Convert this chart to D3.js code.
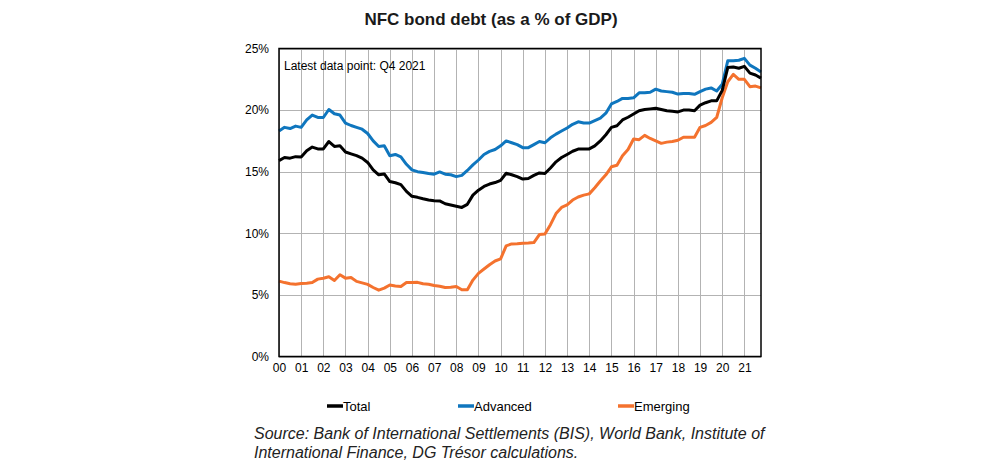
<!DOCTYPE html>
<html>
<head>
<meta charset="utf-8">
<script src="https://cdn.jsdelivr.net/npm/d3@7"></script>
<style>
  html, body { margin: 0; padding: 0; background: #fff; }
  svg { display: block; font-family: Arial, "Liberation Sans", sans-serif; }
</style>
</head>
<body>
<svg id="chart" width="1006" height="472"></svg>
<script>
// ---- Data (quarterly, 2000Q1 .. 2021Q4), % of GDP ----
const yearLabels = ["00","01","02","03","04","05","06","07","08","09","10",
                    "11","12","13","14","15","16","17","18","19","20","21"];
const yTicks = [0, 5, 10, 15, 20, 25];

const total = [
  15.9,16.15,16.1,16.22,
  16.2,16.7,17.0,16.85,
  16.85,17.45,17.05,17.1,
  16.6,16.45,16.3,16.1,
  15.75,15.15,14.75,14.82,
  14.2,14.1,13.95,13.4,
  13.0,12.92,12.8,12.7,
  12.65,12.63,12.4,12.3,
  12.2,12.1,12.35,13.1,
  13.5,13.8,14.0,14.12,
  14.3,14.87,14.75,14.6,
  14.4,14.45,14.7,14.9,
  14.85,15.3,15.8,16.15,
  16.4,16.66,16.84,16.84,
  16.85,17.1,17.5,18.0,
  18.6,18.73,19.2,19.42,
  19.68,19.95,20.05,20.1,
  20.15,20.05,19.95,19.9,
  19.85,20.0,20.0,19.95,
  20.4,20.6,20.75,20.75,
  21.6,23.45,23.5,23.4,
  23.55,23.0,22.85,22.6
];
const advanced = [
  18.3,18.6,18.5,18.7,
  18.6,19.2,19.6,19.4,
  19.4,20.05,19.7,19.6,
  18.95,18.75,18.6,18.45,
  18.1,17.5,17.05,17.1,
  16.3,16.4,16.2,15.6,
  15.15,15.0,14.93,14.85,
  14.8,14.98,14.8,14.75,
  14.6,14.7,15.1,15.55,
  15.95,16.4,16.65,16.8,
  17.1,17.5,17.35,17.2,
  16.95,16.95,17.2,17.45,
  17.35,17.75,18.05,18.3,
  18.55,18.85,19.05,18.95,
  18.95,19.15,19.35,19.75,
  20.5,20.7,20.95,20.95,
  21.0,21.4,21.4,21.45,
  21.7,21.55,21.5,21.45,
  21.3,21.35,21.35,21.28,
  21.5,21.7,21.8,21.55,
  22.1,24.0,24.0,24.05,
  24.2,23.65,23.4,23.1
];
const emerging = [
  6.12,6.0,5.9,5.87,
  5.93,5.95,6.0,6.28,
  6.35,6.47,6.17,6.63,
  6.36,6.42,6.1,5.98,
  5.85,5.6,5.38,5.55,
  5.8,5.73,5.68,6.0,
  6.0,6.02,5.9,5.87,
  5.76,5.7,5.6,5.62,
  5.68,5.42,5.41,6.2,
  6.75,7.1,7.45,7.75,
  7.92,8.98,9.14,9.15,
  9.2,9.22,9.25,9.9,
  9.95,10.7,11.6,12.1,
  12.3,12.7,12.95,13.1,
  13.2,13.7,14.25,14.75,
  15.4,15.52,16.3,16.8,
  17.65,17.6,17.95,17.7,
  17.5,17.3,17.4,17.45,
  17.55,17.8,17.8,17.8,
  18.6,18.75,19.0,19.4,
  21.0,22.3,22.9,22.5,
  22.5,21.9,21.95,21.8
];
const seriesNames = ["Total", "Advanced", "Emerging"];
const seriesColors = ["#000000", "#0F76BE", "#F4722E"];
const seriesData = [total, advanced, emerging];

// ---- Layout ----
const svg = d3.select("#chart");
const L = 279, R = 761, T = 48.5, B = 356.5;

const x = d3.scaleLinear().domain([0, total.length - 1]).range([L, R]);
const y = d3.scaleLinear().domain([0, 25]).range([B, T]);

svg.append("rect").attr("width", 1006).attr("height", 472).attr("fill", "#fff");

// Title
svg.append("text")
  .attr("x", 491).attr("y", 25)
  .attr("text-anchor", "middle")
  .attr("font-size", 17).attr("font-weight", "bold").attr("fill", "#1a1a1a")
  .text("NFC bond debt (as a % of GDP)");

// Grid
const g = svg.append("g");
const yearIdx = yearLabels.map((d, i) => i * 4);

g.append("g").selectAll("line").data(yearIdx).join("line")
  .attr("x1", d => Math.round(x(d)) + 0.5).attr("x2", d => Math.round(x(d)) + 0.5)
  .attr("y1", T).attr("y2", B)
  .attr("stroke", "#b3b3b3").attr("stroke-width", 1);

g.append("g").selectAll("line").data(yTicks).join("line")
  .attr("x1", L).attr("x2", R)
  .attr("y1", d => Math.round(y(d)) + 0.5).attr("y2", d => Math.round(y(d)) + 0.5)
  .attr("stroke", "#b3b3b3").attr("stroke-width", 1);

// Axes labels via d3 axes
const yAxis = d3.axisLeft(y).tickValues(yTicks).tickFormat(d => d + "%").tickSize(0).tickPadding(10);
svg.append("g").attr("transform", `translate(${L},0)`).call(yAxis)
  .call(s => s.select(".domain").remove())
  .selectAll("text").attr("font-size", 12).attr("fill", "#000").attr("font-family", "Arial, 'Liberation Sans', sans-serif");

const xAxis = d3.axisBottom(x).tickValues(yearIdx).tickFormat((d, i) => yearLabels[i]).tickSize(0).tickPadding(7);
svg.append("g").attr("transform", `translate(0,${B})`).call(xAxis)
  .call(s => s.select(".domain").remove())
  .selectAll("text").attr("font-size", 12).attr("fill", "#000").attr("font-family", "Arial, 'Liberation Sans', sans-serif");

// Lines
const line = d3.line().x((d, i) => x(i)).y(d => y(d)).curve(d3.curveLinear);
const plot = svg.append("g");
[2, 1, 0].forEach(k => {
  plot.append("path")
    .datum(seriesData[k])
    .attr("d", line)
    .attr("fill", "none")
    .attr("stroke", seriesColors[k])
    .attr("stroke-width", 3)
    .attr("stroke-linejoin", "round");
});

// Frame
svg.append("rect")
  .attr("x", L).attr("y", T).attr("width", R - L).attr("height", B - T)
  .attr("fill", "none").attr("stroke", "#000").attr("stroke-width", 1.5);

// Annotation
svg.append("text")
  .attr("x", 284).attr("y", 69.5)
  .attr("font-size", 12).attr("fill", "#000")
  .text("Latest data point: Q4 2021");

// Legend
const legendX = [327, 458, 618];
const leg = svg.append("g");
seriesNames.forEach((n, i) => {
  leg.append("line")
    .attr("x1", legendX[i]).attr("x2", legendX[i] + 16)
    .attr("y1", 406).attr("y2", 406)
    .attr("stroke", seriesColors[i]).attr("stroke-width", 3.5);
  leg.append("text")
    .attr("x", legendX[i] + 16).attr("y", 411)
    .attr("font-size", 13).attr("fill", "#000")
    .text(n);
});

// Source
const src = svg.append("text")
  .attr("font-size", 16).attr("font-style", "italic").attr("fill", "#222");
src.append("tspan").attr("x", 254).attr("y", 438.5)
  .text("Source: Bank of International Settlements (BIS), World Bank, Institute of");
src.append("tspan").attr("x", 254).attr("y", 457.5)
  .text("International Finance, DG Trésor calculations.");
</script>
</body>
</html>
